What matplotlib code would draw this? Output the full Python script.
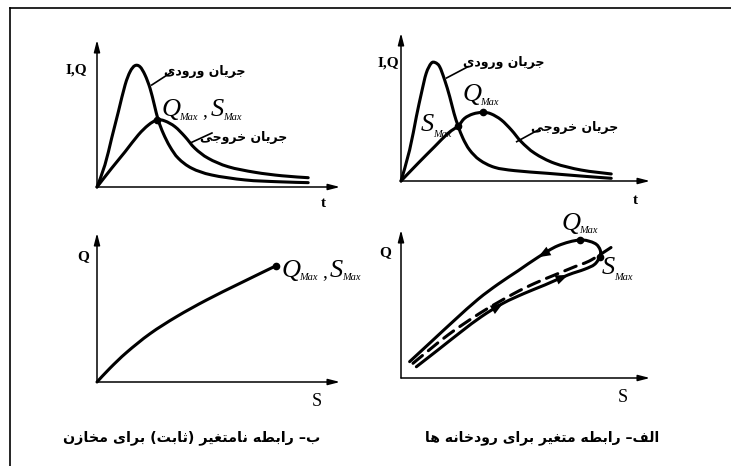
import numpy as np
import matplotlib
matplotlib.use('Agg')
import matplotlib.pyplot as plt
from matplotlib.lines import Line2D
from matplotlib.path import Path
from matplotlib.patches import PathPatch

# ---- data (arbitrary units) ----
# top-left: reservoir hydrographs
tl_in_t = [0, 0.33, 0.61, 0.89, 1.17, 1.38, 1.58, 1.79, 2.00, 2.21, 2.39, 2.55,
           2.76, 3.04, 3.39, 3.95, 4.78, 6.17, 7.55, 8.80]
tl_in_q = [0, 1.47, 3.25, 5.02, 6.80, 7.69, 8.09, 8.02, 7.47, 6.58, 5.47, 4.47,
           3.58, 2.69, 1.91, 1.25, 0.80, 0.47, 0.35, 0.29]
tl_out_t = [0, 0.61, 1.17, 1.72, 2.14, 2.50, 2.83, 3.25, 3.67, 4.08, 4.64, 5.47,
            6.58, 7.70, 8.80]
tl_out_q = [0, 1.25, 2.35, 3.47, 4.13, 4.47, 4.40, 4.02, 3.35, 2.58, 1.91, 1.35,
            0.98, 0.75, 0.62]

# top-right: river hydrographs
tr_in_t = [0, 0.36, 0.64, 0.85, 1.05, 1.26, 1.43, 1.61, 1.82, 2.03, 2.21, 2.38,
           2.58, 2.86, 3.28, 3.90, 4.74, 6.13, 7.51, 8.76]
tr_in_q = [0, 2.07, 4.29, 5.85, 7.18, 7.85, 7.89, 7.62, 6.73, 5.62, 4.51, 3.67,
           2.85, 2.07, 1.40, 0.91, 0.69, 0.51, 0.33, 0.18]
tr_out_t = [0, 0.71, 1.40, 1.96, 2.38, 2.65, 3.00, 3.42, 3.76, 4.18, 4.60, 5.01,
            5.57, 6.40, 7.51, 8.76]
tr_out_q = [0, 1.18, 2.29, 3.18, 3.67, 4.18, 4.47, 4.58, 4.47, 4.07, 3.40, 2.62,
            1.85, 1.18, 0.73, 0.47]

# bottom-left: storage-outflow, reservoir
bl_s = [0, 0.54, 1.24, 2.21, 3.32, 4.57, 5.96, 7.46]
bl_q = [0, 0.92, 1.98, 3.22, 4.36, 5.47, 6.58, 7.75]

# bottom-right: storage-outflow loop, river
br_low_s = [0.64, 1.54, 2.51, 3.35, 4.25, 5.15, 5.99, 6.96, 7.65, 8.07, 8.28]
br_low_q = [0.75, 1.87, 3.09, 4.09, 4.98, 5.65, 6.20, 6.87, 7.25, 7.58, 8.09]
br_up_s = [0.36, 1.26, 2.24, 3.21, 4.04, 4.88, 5.71, 6.54, 7.45, 8.07, 8.30]
br_up_q = [1.09, 2.42, 3.87, 5.25, 6.25, 7.15, 8.05, 8.82, 9.20, 8.98, 8.53]
br_dash_s = [0.50, 1.96, 3.35, 4.67, 5.57, 6.33, 7.24, 7.93, 8.97]
br_dash_q = [0.98, 2.87, 4.38, 5.60, 6.31, 6.82, 7.42, 7.87, 8.93]

inflow_lbl = 'جریان ورودی'
outflow_lbl = 'جریان خروجی'
cap_river = 'الف– رابطه متغیر برای رودخانه ها'
cap_res = 'ب– رابطه نامتغیر (ثابت) برای مخازن'

# ---- minimal arabic shaping (matplotlib has no shaping/bidi) ----
FORMS = {  # isolated, final, initial, medial
    'ا': ('\ufe8d', '\ufe8e', None, None),
    'ب': ('\ufe8f', '\ufe90', '\ufe91', '\ufe92'),
    'ت': ('\ufe95', '\ufe96', '\ufe97', '\ufe98'),
    'ث': ('\ufe99', '\ufe9a', '\ufe9b', '\ufe9c'),
    'ج': ('\ufe9d', '\ufe9e', '\ufe9f', '\ufea0'),
    'خ': ('\ufea5', '\ufea6', '\ufea7', '\ufea8'),
    'د': ('\ufea9', '\ufeaa', None, None),
    'ر': ('\ufead', '\ufeae', None, None),
    'ز': ('\ufeaf', '\ufeb0', None, None),
    'ط': ('\ufec1', '\ufec2', '\ufec3', '\ufec4'),
    'غ': ('\ufecd', '\ufece', '\ufecf', '\ufed0'),
    'ف': ('\ufed1', '\ufed2', '\ufed3', '\ufed4'),
    'ل': ('\ufedd', '\ufede', '\ufedf', '\ufee0'),
    'م': ('\ufee1', '\ufee2', '\ufee3', '\ufee4'),
    'ن': ('\ufee5', '\ufee6', '\ufee7', '\ufee8'),
    'ه': ('\ufee9', '\ufeea', '\ufeeb', '\ufeec'),
    'و': ('\ufeed', '\ufeee', None, None),
    'ی': ('\ufbfc', '\ufbfd', '\ufbfe', '\ufbff'),
}
MIRROR = {'(': ')', ')': '('}


def fa(s):
    out = []
    for i, ch in enumerate(s):
        if ch not in FORMS:
            out.append(MIRROR.get(ch, ch))
            continue
        prev = s[i - 1] if i > 0 else ''
        nxt = s[i + 1] if i + 1 < len(s) else ''
        iso, fin, ini, med = FORMS[ch]
        jp = prev in FORMS and FORMS[prev][2] is not None
        jn = nxt in FORMS and ini is not None
        if jp and jn:
            out.append(med)
        elif jp:
            out.append(fin)
        elif jn:
            out.append(ini)
        else:
            out.append(iso)
    return ''.join(out[::-1])


def smooth(xs, ys):
    # smooth bezier path through the read points (catmull-rom style)
    p = np.column_stack([xs, ys]).astype(float)
    ext = np.vstack([p[0], p, p[-1]])
    verts = [p[0]]
    codes = [Path.MOVETO]
    for i in range(len(p) - 1):
        p0, p1, p2, p3 = ext[i], ext[i + 1], ext[i + 2], ext[i + 3]
        verts += [p1 + (p2 - p0) / 6, p2 - (p3 - p1) / 6, p2]
        codes += [Path.CURVE4] * 3
    return Path(verts, codes)


def curve(ax, xs, ys, **kw):
    ax.add_patch(PathPatch(smooth(xs, ys), fill=False, ec='k', lw=2.2,
                           capstyle='round', joinstyle='round', clip_on=False, **kw))


W, H = 731, 466
fig = plt.figure(figsize=(W / 100, H / 100), dpi=100)

# frame lines (top and left only)
fig.add_artist(Line2D([10 / W, 1], [1 - 8 / H, 1 - 8 / H], transform=fig.transFigure,
                      color='k', lw=1.2))
fig.add_artist(Line2D([10 / W, 10 / W], [0, 1 - 8 / H], transform=fig.transFigure,
                      color='k', lw=1.2))

PX, PY = 24.0, 15.0  # pixels per unit


def panel(x0, y0, xend, ytop):
    ax = fig.add_axes([x0 / W, 1 - y0 / H, (xend - x0) / W, (y0 - ytop) / H])
    xm, ym = (xend - x0) / PX, (y0 - ytop) / PY
    ax.set_xlim(0, xm)
    ax.set_ylim(0, ym)
    ax.axis('off')
    ap = dict(arrowstyle='-|>,head_length=0.7,head_width=0.18', color='k', lw=1.1,
              shrinkA=0, shrinkB=0)
    ax.annotate('', xy=(xm, 0), xytext=(0, 0), arrowprops=ap, annotation_clip=False)
    ax.annotate('', xy=(0, ym), xytext=(0, 0), arrowprops=ap, annotation_clip=False)
    return ax


serif = 'Liberation Serif'
fa_font = 'DejaVu Sans'


def sym(ax, x, y, letter, sub_dy=-2.5):
    ax.text(x, y, letter, family=serif, style='italic', fontsize=19,
            ha='left', va='baseline')
    dx = 12.3 if letter == 'Q' else 9.0
    ax.annotate('Max', (x, y), xytext=(dx, sub_dy), textcoords='offset points',
                family=serif, style='italic', fontsize=7.5, ha='left', va='baseline')


def dot(ax, x, y):
    ax.plot(x, y, 'o', color='k', ms=4.5, clip_on=False)


def axlabel(ax, x, y, s, bold=True, size=11):
    ax.text(x, y, s, family=serif, weight='bold' if bold else 'normal', fontsize=size,
            ha='center', va='center')


def falabel(ax, x, y, s, size=9):
    ax.text(x, y, fa(s), family=fa_font, weight='bold', fontsize=size,
            ha='center', va='center')


# top-left
ax = panel(97, 187, 340, 40)
curve(ax, tl_in_t, tl_in_q)
curve(ax, tl_out_t, tl_out_q)
k = int(np.argmax(tl_out_q))
dot(ax, tl_out_t[k], tl_out_q[k])
axlabel(ax, -0.85, 7.8, 'I,Q')
axlabel(ax, 9.42, -1.13, 't')
sym(ax, 2.71, 4.73, 'Q')
ax.text(4.38, 4.73, ',', family=serif, fontsize=14, ha='left', va='baseline')
sym(ax, 4.72, 4.73, 'S')
falabel(ax, 4.5, 7.67, inflow_lbl)
ax.plot([2.28, 3.08], [6.8, 7.63], color='k', lw=1.2)
falabel(ax, 6.13, 3.33, outflow_lbl)
ax.plot([3.88, 4.79], [2.93, 3.6], color='k', lw=1.2)

# top-right
ax = panel(401, 181, 650, 33)
curve(ax, tr_in_t, tr_in_q)
curve(ax, tr_out_t, tr_out_q)
k = int(np.argmax(tr_out_q))
dot(ax, tr_out_t[k], tr_out_q[k])
dot(ax, tr_out_t[4], tr_out_q[4])
axlabel(ax, -0.54, 7.87, 'I,Q')
axlabel(ax, 9.75, -1.33, 't')
sym(ax, 2.58, 5.33, 'Q')
sym(ax, 0.83, 3.33, 'S', sub_dy=-4.3)
falabel(ax, 4.29, 7.87, inflow_lbl)
ax.plot([1.90, 2.79], [6.87, 7.62], color='k', lw=1.2)
falabel(ax, 7.25, 3.6, outflow_lbl)
ax.plot([4.82, 5.71], [2.62, 3.4], color='k', lw=1.2)

# bottom-left
ax = panel(97, 382, 340, 233)
curve(ax, bl_s, bl_q)
dot(ax, bl_s[-1], bl_q[-1])
axlabel(ax, -0.58, 8.33, 'Q')
axlabel(ax, 9.17, -1.33, 'S', bold=False, size=13)
sym(ax, 7.71, 7.0, 'Q')
ax.text(9.4, 7.0, ',', family=serif, fontsize=14, ha='left', va='baseline')
sym(ax, 9.68, 7.0, 'S')
ax.text(3.95, -3.7, fa(cap_res), family=fa_font, weight='bold', fontsize=10.3,
        ha='center', va='center')

# bottom-right
ax = panel(401, 378, 650, 230)
loop_s = br_low_s + br_up_s[::-1]
loop_q = br_low_q + br_up_q[::-1]
curve(ax, loop_s, loop_q)
curve(ax, br_dash_s, br_dash_q, linestyle=(0, (4, 2.5)))
k = int(np.argmax(br_up_q))
dot(ax, br_up_s[k], br_up_q[k])
dot(ax, br_low_s[-1], br_low_q[-1])
hp = dict(arrowstyle='-|>,head_length=0.9,head_width=0.35', color='k', lw=0,
          shrinkA=0, shrinkB=0)
for i in (4, 7):
    ax.annotate('', xy=(br_low_s[i], br_low_q[i]), xytext=(br_low_s[i - 1], br_low_q[i - 1]),
                arrowprops=hp)
ax.annotate('', xy=(br_up_s[6], br_up_q[6]), xytext=(br_up_s[7], br_up_q[7]), arrowprops=hp)
axlabel(ax, -0.67, 8.33, 'Q')
axlabel(ax, 9.25, -1.27, 'S', bold=False, size=13)
sym(ax, 6.71, 9.87, 'Q')
sym(ax, 8.375, 6.93, 'S', sub_dy=-4.3)
ax.text(5.9, -3.97, fa(cap_river), family=fa_font, weight='bold', fontsize=10.1,
        ha='center', va='center')

fig.savefig('out.png', dpi=100)
